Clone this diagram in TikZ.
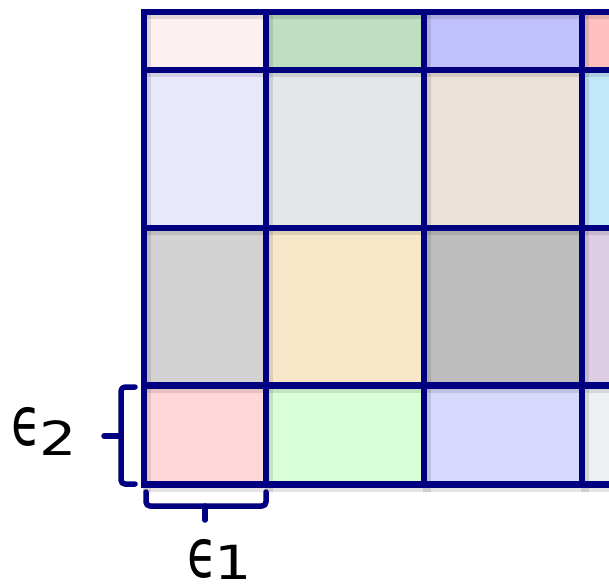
\documentclass[tikz,border=0pt]{standalone}
\usepackage{fontspec}
\usepackage{graphicx}
\newfontfamily\labfont{DejaVu Sans}
\definecolor{gridline}{RGB}{0,0,128}
\definecolor{cA}{RGB}{253,240,240}
\definecolor{cB}{RGB}{192,223,192}
\definecolor{cC}{RGB}{192,192,252}
\definecolor{cD}{RGB}{255,192,192}
\definecolor{cE}{RGB}{232,232,252}
\definecolor{cF}{RGB}{227,231,232}
\definecolor{cG}{RGB}{234,226,216}
\definecolor{cH}{RGB}{192,232,248}
\definecolor{cI}{RGB}{211,211,211}
\definecolor{cJ}{RGB}{247,231,200}
\definecolor{cK}{RGB}{190,190,190}
\definecolor{cL}{RGB}{220,204,228}
\definecolor{cM}{RGB}{255,215,217}
\definecolor{cN}{RGB}{217,255,214}
\definecolor{cO}{RGB}{216,216,252}
\definecolor{cP}{RGB}{237,240,240}
\newcommand\epslab[2]{{\labfont\scalebox{0.72}[1]{\fontsize{68}{80}\selectfont ϵ}\kern-3pt\raisebox{-#2}{\fontsize{47}{56}\selectfont\scalebox{1.25}[1]{#1}}}}
\tikzset{
  gridstroke/.style={draw=gridline,line width=6.5pt,line cap=rect},
  gridshadow/.style={draw=black,opacity=0.10,line width=8pt,line cap=rect},
  bracestroke/.style={draw=gridline,line width=5.5pt,line cap=round,line join=round,rounded corners=4pt},
  eplabel/.style={anchor=base west,inner sep=0pt,outer sep=0pt}
}
\begin{document}
\begin{tikzpicture}[x=1pt,y=-1pt]
\useasboundingbox (0,0) rectangle (609,587);
\clip (0,0) rectangle (609,587);
% cells
\fill[cA] (144,12) rectangle (266,70);
\fill[cB] (266,12) rectangle (424,70);
\fill[cC] (424,12) rectangle (582,70);
\fill[cD] (582,12) rectangle (640,70);
\fill[cE] (144,70) rectangle (266,228);
\fill[cF] (266,70) rectangle (424,228);
\fill[cG] (424,70) rectangle (582,228);
\fill[cH] (582,70) rectangle (640,228);
\fill[cI] (144,228) rectangle (266,385.5);
\fill[cJ] (266,228) rectangle (424,385.5);
\fill[cK] (424,228) rectangle (582,385.5);
\fill[cL] (582,228) rectangle (640,385.5);
\fill[cM] (144,385.5) rectangle (266,484.5);
\fill[cN] (266,385.5) rectangle (424,484.5);
\fill[cO] (424,385.5) rectangle (582,484.5);
\fill[cP] (582,385.5) rectangle (640,484.5);
% shadows of grid lines
\begin{scope}[shift={(2.5,3)}]
\foreach \x in {144,266,424,582} \draw[gridshadow] (\x,12) -- (\x,484.5);
\foreach \y in {12,70,228,385.5,484.5} \draw[gridshadow] (144,\y) -- (640,\y);
\end{scope}
% grid lines
\foreach \x in {144,266,424,582} \draw[gridstroke] (\x,12) -- (\x,484.5);
\foreach \y in {12,70,228,385.5,484.5} \draw[gridstroke] (144,\y) -- (640,\y);
% braces
\coordinate (b2top) at (135,387);
\coordinate (b2bot) at (135,484);
\coordinate (b2tip) at (104,436);
\coordinate (b2mid) at (121,436);
\draw[bracestroke] (b2top) -| (b2mid) |- (b2bot);
\draw[bracestroke] (b2mid) -- (b2tip);
\coordinate (b1l) at (146,492);
\coordinate (b1r) at (266,492);
\coordinate (b1mid) at (205,506);
\coordinate (b1tip) at (205,520);
\draw[bracestroke] (b1l) |- (b1mid) -| (b1r);
\draw[bracestroke] (b1mid) -- (b1tip);
% labels
\node[eplabel] (eps2) at (12,445) {\epslab{2}{10pt}};
\node[eplabel] (eps1) at (187,577) {\epslab{1}{2pt}};
\end{tikzpicture}
\end{document}
